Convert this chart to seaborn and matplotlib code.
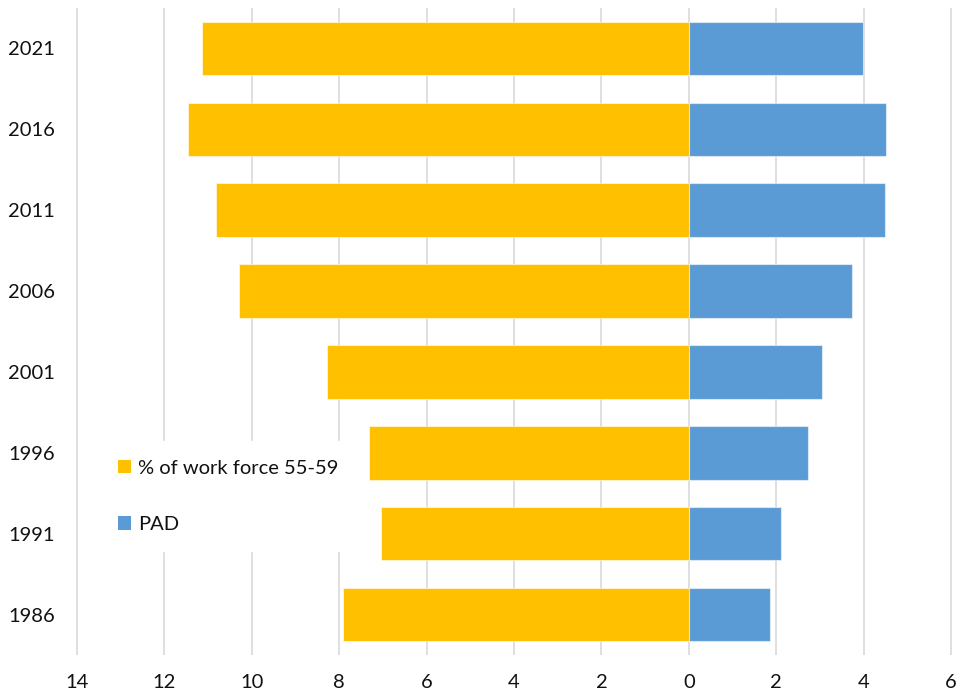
import matplotlib
matplotlib.use("Agg")
import matplotlib.pyplot as plt
from matplotlib.ticker import FuncFormatter, MultipleLocator
import seaborn as sns
import pandas as pd

# Census years, newest first (top of the chart)
years = ["2021", "2016", "2011", "2006", "2001", "1996", "1991", "1986"]
# Share of the work force aged 55-59 (plotted to the left of zero)
workforce_55_59 = [11.13, 11.45, 10.82, 10.29, 8.28, 7.31, 7.04, 7.92]
# PAD (plotted to the right of zero)
pad = [3.99, 4.51, 4.48, 3.73, 3.05, 2.72, 2.10, 1.86]

series_names = ["% of work force 55-59", "PAD"]
colors = {"% of work force 55-59": "#FFC000", "PAD": "#5B9BD5"}

df = pd.concat([
    pd.DataFrame({"year": years, "value": [-v for v in workforce_55_59],
                  "series": series_names[0]}),
    pd.DataFrame({"year": years, "value": pad, "series": series_names[1]}),
])

sns.set_theme(style="white")
plt.rcParams["font.family"] = ["Lato", "DejaVu Sans"]

fig = plt.figure(figsize=(9.6, 6.92), dpi=100)
ax = fig.add_axes([76 / 960, 37 / 692, 876 / 960, 647 / 692])

sns.barplot(data=df, x="value", y="year", hue="series", order=years,
            hue_order=series_names, palette=colors, dodge=False,
            saturation=1, width=0.66, orient="h", ax=ax, legend=False,
            edgecolor=(1, 1, 1, 0.55), linewidth=0.8)

ax.set_xlim(-14.02, 6.02)
ax.xaxis.set_major_locator(MultipleLocator(2))
ax.xaxis.set_major_formatter(FuncFormatter(lambda v, p: f"{abs(v):.0f}"))
ax.grid(axis="x", color="#d9d9d9", linewidth=1.2)
ax.set_axisbelow(True)
for s in ax.spines.values():
    s.set_visible(False)
ax.set_xlabel("")
ax.set_ylabel("")
ax.tick_params(axis="x", length=0, pad=14, labelsize=14.5, colors="#111111")
ax.tick_params(axis="y", length=0, pad=15, labelsize=14.5, colors="#111111")

handles = [plt.Rectangle((0, 0), 1, 1, facecolor=colors[n], edgecolor="none")
           for n in series_names]
leg = ax.legend(handles, series_names, loc="upper left",
                bbox_to_anchor=(0.027, 0.33), borderaxespad=0,
                frameon=True, fancybox=False, framealpha=1, edgecolor="white",
                fontsize=14.5, handlelength=0.65, handleheight=0.65,
                handletextpad=0.35, labelspacing=1.95, borderpad=0.9)
leg.get_frame().set_facecolor("white")
for t in leg.get_texts():
    t.set_color("#111111")

fig.savefig("out.png", dpi=100, facecolor="white")
